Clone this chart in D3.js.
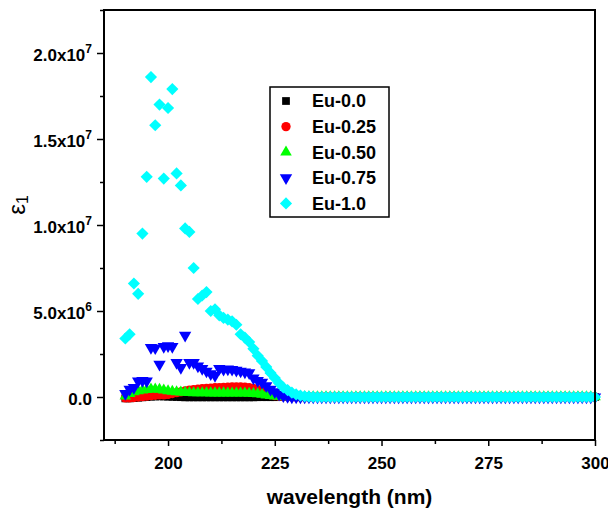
<!DOCTYPE html>
<html>
<head>
<meta charset="utf-8">
<script src="https://cdn.jsdelivr.net/npm/d3@7"></script>
<style>
body { margin: 0; background: #fff; }
text { font-family: "Liberation Sans", Arial, sans-serif; }
</style>
</head>
<body>
<script>
const width = 608;
const height = 510;
const margin = {left: 104, right: 13, top: 10, bottom: 70};

// wavelength grid (nm), one sample per nm
const wavelength = d3.range(190, 301);

// epsilon_1 values in units of 1e6, 190..229 nm
const eu00Head = [
  -0.08, -0.08, -0.06, -0.04, -0.02, 0, 0.02, 0.03, 0.04, 0.03,
  0.02, 0.01, 0, -0.01, -0.02, -0.02, -0.02, -0.02, -0.02, -0.02,
  -0.02, -0.02, -0.02, -0.02, -0.02, -0.02, -0.02, -0.02, -0.02, -0.02,
  -0.02, -0.01, -0.01, -0.01, -0.01, -0.01, 0, 0, 0, 0
];
const eu025Head = [
  -0.05, -0.05, -0.03, 0, 0.02, 0.05, 0.08, 0.1, 0.12, 0.12,
  0.15, 0.2, 0.25, 0.3, 0.35, 0.4, 0.43, 0.45, 0.48, 0.5,
  0.52, 0.54, 0.55, 0.56, 0.57, 0.58, 0.58, 0.58, 0.57, 0.55,
  0.5, 0.42, 0.32, 0.22, 0.14, 0.08, 0.04, 0.02, 0.01, 0
];
const eu050Head = [
  0.05, 0.2, 0.3, 0.35, 0.4, 0.42, 0.45, 0.45, 0.44, 0.4,
  0.36, 0.32, 0.3, 0.28, 0.26, 0.25, 0.24, 0.24, 0.24, 0.24,
  0.23, 0.23, 0.23, 0.23, 0.22, 0.22, 0.22, 0.22, 0.22, 0.21,
  0.2, 0.18, 0.15, 0.11, 0.08, 0.05, 0.03, 0.01, 0, 0
];
const eu075Head = [
  0.2, 0.45, 0.55, 0.93, 0.95, 0.93, 2.87, 2.85, 1.9, 2.93,
  2.97, 2.93, 2.0, 1.71, 3.59, 2.0, 2.0, 1.8, 1.65, 1.5,
  1.35, 1.25, 1.65, 1.6, 1.62, 1.6, 1.55, 1.5, 1.45, 1.4,
  1.1, 0.95, 0.85, 0.65, 0.45, 0.3, 0.15, 0.06, 0.02, 0
];
const eu100Head = [
  3.4, 3.65, 6.6, 6.0, 9.5, 12.8, 18.6, 15.8, 17.0, 12.7,
  16.8, 17.9, 13.0, 12.3, 9.8, 9.6, 7.5, 5.7, 5.9, 6.1,
  5.0, 5.1, 4.75, 4.6, 4.5, 4.4, 4.2, 3.65, 3.45, 3.2,
  2.8, 2.4, 2.1, 1.75, 1.4, 1.1, 0.8, 0.55, 0.4, 0.25
];

// 230..300 nm
const flatTail = [
  0, 0, 0, 0, 0, 0, 0, 0, 0, 0,
  0, 0, 0, 0, 0, 0, 0, 0, 0, 0,
  0, 0, 0, 0, 0, 0, 0, 0, 0, 0,
  0, 0, 0, 0, 0, 0, 0, 0, 0, 0,
  0, 0, 0, 0, 0, 0, 0, 0, 0, 0,
  0, 0, 0, 0, 0, 0, 0, 0, 0, 0,
  0, 0, 0, 0, 0, 0, 0, 0, 0, 0,
  0
];
const eu100Tail = [
  0.15, 0.08, 0.04, 0.02, 0.01, 0, 0, 0, 0, 0,
  0, 0, 0, 0, 0, 0, 0, 0, 0, 0,
  0, 0, 0, 0, 0, 0, 0, 0, 0, 0,
  0, 0, 0, 0, 0, 0, 0, 0, 0, 0,
  0, 0, 0, 0, 0, 0, 0, 0, 0, 0,
  0, 0, 0, 0, 0, 0, 0, 0, 0, 0,
  0, 0, 0, 0, 0, 0, 0, 0, 0, 0,
  0
];

const seriesNames = ['Eu-0.0', 'Eu-0.25', 'Eu-0.50', 'Eu-0.75', 'Eu-1.0'];
const seriesColors = ['#000000', '#ff0000', '#00ff00', '#0000ff', '#00ffff'];
const seriesValues = [
  eu00Head.concat(flatTail),
  eu025Head.concat(flatTail),
  eu050Head.concat(flatTail),
  eu075Head.concat(flatTail),
  eu100Head.concat(eu100Tail)
];
const UNIT = 1e6;

const xMajor = [200, 225, 250, 275, 300];
const xMinor = [187.5, 212.5, 237.5, 262.5, 287.5];
const yMajor = [0, 5e6, 1e7, 1.5e7, 2e7];
const yMinor = [-2.5e6, 2.5e6, 7.5e6, 1.25e7, 1.75e7, 2.25e7];

const symbolTypes = [d3.symbolSquare, d3.symbolCircle, d3.symbolTriangle, d3.symbolTriangle, d3.symbolSquare];
const symbolSizes = [60, 68, 58, 66, 74];
const symbolRotate = [0, 0, 0, 180, 45];

const x = d3.scaleLinear().domain([185, 300]).range([margin.left, width - margin.right]);
const y = d3.scaleLinear().domain([-2.5e6, 2.25e7]).range([height - margin.bottom, margin.top]);

const svg = d3.select('body').append('svg')
  .attr('width', width)
  .attr('height', height);

// data
seriesValues.forEach((vals, i) => {
  const sym = d3.symbol().type(symbolTypes[i]).size(symbolSizes[i]);
  svg.append('g')
    .selectAll('path')
    .data(wavelength.map((w, j) => [w, vals[j] * UNIT]))
    .enter()
    .append('path')
    .attr('d', sym)
    .attr('fill', seriesColors[i])
    .attr('transform', d => `translate(${x(d[0])},${y(d[1])}) rotate(${symbolRotate[i]})`);
});

// axes
function sciLabel(sel) {
  sel.each(function(v) {
    const t = d3.select(this).text('');
    if (v === 0) { t.text('0.0'); return; }
    const exp = Math.floor(Math.log10(v));
    const mant = v / Math.pow(10, exp);
    t.append('tspan').text(mant.toFixed(1) + 'x10');
    t.append('tspan').attr('font-size', 12).attr('dy', '-0.6em').text(exp);
  });
}

const xAxis = svg.append('g')
  .attr('transform', `translate(0,${height - margin.bottom})`)
  .call(d3.axisBottom(x).tickValues(xMajor).tickSize(6).tickPadding(11));
svg.append('g')
  .attr('transform', `translate(0,${height - margin.bottom})`)
  .call(d3.axisBottom(x).tickValues(xMinor).tickSize(4).tickFormat(''));

const yAxis = svg.append('g')
  .attr('transform', `translate(${margin.left},0)`)
  .call(d3.axisLeft(y).tickValues(yMajor).tickSize(7).tickPadding(5));
svg.append('g')
  .attr('transform', `translate(${margin.left},0)`)
  .call(d3.axisLeft(y).tickValues(yMinor).tickSize(4).tickFormat(''));

yAxis.selectAll('.tick text').attr('dy', '0.42em').call(sciLabel);

svg.selectAll('.domain').remove();
svg.selectAll('.tick line').attr('stroke', '#000').attr('stroke-width', 1.5);
svg.selectAll('.tick text')
  .attr('fill', '#000')
  .attr('font-size', 17)
  .attr('font-weight', 'bold')
  .attr('font-family', '"Liberation Sans", Arial, sans-serif');

// frame
svg.append('rect')
  .attr('x', margin.left)
  .attr('y', margin.top)
  .attr('width', width - margin.left - margin.right)
  .attr('height', height - margin.top - margin.bottom)
  .attr('fill', 'none')
  .attr('stroke', '#000')
  .attr('stroke-width', 2);

// titles
svg.append('text')
  .attr('x', (margin.left + width - margin.right) / 2)
  .attr('y', 504)
  .attr('text-anchor', 'middle')
  .attr('font-size', 21)
  .attr('font-weight', 'bold')
  .text('wavelength (nm)');

const yTitle = svg.append('text')
  .attr('transform', 'translate(25,205) rotate(-90)')
  .attr('text-anchor', 'middle')
  .attr('font-size', 24);
yTitle.append('tspan').text('ε');
yTitle.append('tspan').attr('font-size', 16).attr('dy', '0.2em').text('1');

// legend
const legend = svg.append('g');
legend.append('rect')
  .attr('x', 270).attr('y', 87)
  .attr('width', 119).attr('height', 130)
  .attr('fill', '#fff')
  .attr('stroke', '#000')
  .attr('stroke-width', 1.5);

seriesNames.forEach((name, i) => {
  const ly = 101 + i * 25.6;
  legend.append('path')
    .attr('d', d3.symbol().type(symbolTypes[i]).size(symbolSizes[i])())
    .attr('fill', seriesColors[i])
    .attr('transform', `translate(286,${ly}) rotate(${symbolRotate[i]})`);
  legend.append('text')
    .attr('x', 312)
    .attr('y', ly)
    .attr('dy', '0.36em')
    .attr('font-size', 18)
    .attr('font-weight', 'bold')
    .text(name);
});
</script>
</body>
</html>
